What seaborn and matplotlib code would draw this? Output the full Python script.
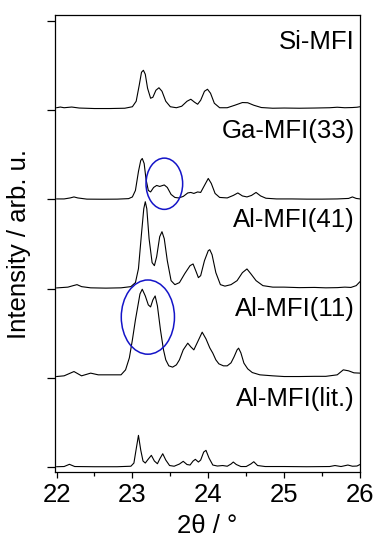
import matplotlib
matplotlib.use("Agg")
import matplotlib.pyplot as plt
from matplotlib.patches import Ellipse
import seaborn as sns
import pandas as pd

# ---------------- data ----------------
sample_names = ["Si-MFI", "Ga-MFI(33)", "Al-MFI(41)", "Al-MFI(11)", "Al-MFI(lit.)"]
stack_index = [4, 3, 2, 1, 0]   # vertical position (in tick units) of each trace
tick_step = 89.3                # intensity units between stacked traces

tt_si = [22.00, 22.05, 22.10, 22.20, 22.30, 22.50, 22.70, 22.90, 23.00, 23.05, 23.09, 23.12,
         23.145, 23.17, 23.20, 23.24, 23.27, 23.31, 23.35, 23.39, 23.44, 23.50, 23.58, 23.65,
         23.72, 23.77, 23.82, 23.86, 23.90, 23.95, 23.99, 24.03, 24.08, 24.15, 24.25, 24.35,
         24.45, 24.52, 24.60, 24.70, 24.85, 25.00, 25.20, 25.40, 25.60, 25.70, 25.80, 25.90,
         25.96, 26.00]
int_si = [2.5, 3.2, 2.5, 3.2, 2.2, 1.7, 1.7, 2.0, 3.5, 9, 25, 38,
          40, 36, 22, 12, 13, 20, 22.5, 19, 9, 3.5, 2.5, 4,
          9, 11, 8, 6, 10, 19, 21, 17, 7, 2.5, 2.5, 5,
          7.7, 7.5, 5, 2.7, 2.0, 2.2, 2.0, 2.2, 2.5, 3.0, 2.5, 2.7,
          3.0, 3.5]

tt_ga = [22.00, 22.10, 22.18, 22.23, 22.28, 22.40, 22.60, 22.80, 22.95, 23.00, 23.04, 23.08,
         23.11, 23.13, 23.155, 23.18, 23.21, 23.24, 23.28, 23.32, 23.36, 23.42, 23.46, 23.51,
         23.56, 23.61, 23.67, 23.73, 23.77, 23.81, 23.86, 23.90, 23.95, 24.00, 24.04, 24.09,
         24.15, 24.25, 24.33, 24.39, 24.45, 24.51, 24.57, 24.63, 24.69, 24.76, 24.90, 25.10,
         25.30, 25.50, 25.70, 25.85, 25.90, 25.95, 26.00]
int_ga = [0.5, 0.5, 1.5, 2.5, 1.5, 0.3, 0.2, 0.3, 0.8, 2.5, 9, 28,
          39, 41, 36, 20, 9, 7.5, 12, 14, 13, 14.5, 12, 5,
          2, 1.5, 3, 6.5, 7, 6, 7.5, 7, 14, 21, 16, 6,
          2, 1.5, 4, 6.5, 3.5, 2.5, 4, 7, 3.5, 1.2, 0.5, 0.5,
          0.3, 0.3, 0.5, 1, 2.5, 1, 0.5]

tt_al41 = [22.00, 22.15, 22.22, 22.27, 22.33, 22.45, 22.65, 22.85, 22.98, 23.04, 23.08, 23.12,
           23.15, 23.17, 23.19, 23.22, 23.26, 23.29, 23.32, 23.36, 23.39, 23.42, 23.46, 23.51,
           23.56, 23.62, 23.69, 23.76, 23.80, 23.84, 23.87, 23.90, 23.95, 24.00, 24.02, 24.05,
           24.10, 24.16, 24.22, 24.30, 24.38, 24.45, 24.51, 24.56, 24.63, 24.72, 24.85, 25.00,
           25.20, 25.40, 25.55, 25.70, 25.80, 25.88, 25.95, 26.00]
int_al41 = [0.7, 1.5, 3, 4, 2, 0.8, 0.5, 0.8, 2, 6, 20, 55,
            80, 87, 80, 50, 26, 23, 32, 52, 57, 50, 28, 8,
            4, 6, 15, 23, 24.7, 17, 11, 13, 28, 38, 39, 34,
            16, 4, 2.5, 4, 8, 16, 19.7, 15, 8, 3, 1.5, 1.5,
            1.0, 1.2, 0.8, 1.0, 1.5, 1.2, 3, 7]

tt_al11 = [22.00, 22.10, 22.23, 22.33, 22.45, 22.55, 22.70, 22.85, 22.91, 22.96, 23.00, 23.04,
           23.07, 23.10, 23.13, 23.17, 23.21, 23.24, 23.27, 23.30, 23.33, 23.37, 23.41, 23.44,
           23.48, 23.53, 23.58, 23.62, 23.67, 23.73, 23.77, 23.81, 23.86, 23.92, 23.97, 24.02,
           24.06, 24.10, 24.14, 24.20, 24.25, 24.30, 24.34, 24.38, 24.40, 24.43, 24.47, 24.52,
           24.58, 24.68, 24.85, 25.00, 25.20, 25.40, 25.55, 25.70, 25.78, 25.85, 25.92, 26.00]
int_al11 = [1.3, 2.0, 6.3, 2.0, 4.7, 3.0, 3.0, 3.0, 8, 20, 38, 58,
            71, 84, 88.7, 82, 73, 71, 78, 82, 72, 48, 28, 18,
            12, 10.7, 13, 18, 28, 34.7, 31, 28, 36, 45.7, 39, 30,
            24.7, 18, 14, 12, 12, 15, 21, 28, 29.7, 25, 14.7, 9,
            5.3, 3, 2, 1.3, 1.3, 1.5, 1.5, 3, 8, 7, 5, 4.7]

tt_lit = [22.00, 22.10, 22.17, 22.24, 22.50, 22.80, 22.98, 23.02, 23.05, 23.08, 23.11, 23.14,
          23.17, 23.21, 23.25, 23.29, 23.33, 23.36, 23.40, 23.44, 23.49, 23.55, 23.62, 23.67,
          23.72, 23.76, 23.80, 23.83, 23.87, 23.90, 23.94, 23.97, 24.01, 24.06, 24.12, 24.19,
          24.25, 24.30, 24.33, 24.37, 24.43, 24.50, 24.56, 24.60, 24.65, 24.75, 25.00, 25.30,
          25.60, 25.67, 25.75, 25.84, 25.90, 25.96, 26.00]
int_lit = [0.3, 0.5, 2.7, 0.5, 0.3, 0.3, 0.8, 4, 18, 31.7, 17, 6,
           4, 8, 11.7, 6, 3.3, 8, 13.3, 7, 1.5, 0.8, 3, 5.7,
           2.5, 2, 6, 7.7, 5, 7, 15, 16.7, 9, 2, 1, 1.5,
           0.8, 3, 5, 2.5, 0.5, 0.5, 3, 5.3, 1.5, 0.5, 0.5, 0.3,
           0.5, 1.5, 0.5, 2, 0.8, 1, 2.5]

two_theta = [tt_si, tt_ga, tt_al41, tt_al11, tt_lit]
intensity = [int_si, int_ga, int_al41, int_al11, int_lit]

# highlighted regions (blue ellipses): centre 2theta, centre intensity, width, height
ellipse_x = [23.421, 23.204]
ellipse_y = [283.6, 150.1]
ellipse_w = [0.483, 0.701]
ellipse_h = [51.3, 74.3]

x_ticks = [22, 23, 24, 25, 26]
x_tick_labels = ["22", "23", "24", "25", "26"]

# ---------------- build long table ----------------
rows = []
for name, k, xs, ys in zip(sample_names, stack_index, two_theta, intensity):
    for x, y in zip(xs, ys):
        rows.append({"sample": name, "two_theta": x, "intensity": y + k * tick_step})
df = pd.DataFrame(rows)

# ---------------- plot ----------------
sns.set_style("ticks")
plt.rcParams["font.family"] = ["Liberation Sans", "DejaVu Sans"]
plt.rcParams["axes.linewidth"] = 0.9
plt.rcParams["text.color"] = "black"
plt.rcParams["axes.labelcolor"] = "black"
plt.rcParams["xtick.color"] = "black"
plt.rcParams["ytick.color"] = "black"
plt.rcParams["axes.edgecolor"] = "black"

fig = plt.figure(figsize=(3.77, 5.41), dpi=100)
ax = fig.add_axes([0.1459, 0.1275, 0.809, 0.8447])

for name in sample_names:
    sub = df[df["sample"] == name]
    sns.lineplot(data=sub, x="two_theta", y="intensity", ax=ax, color="black",
                 linewidth=0.8, estimator=None, sort=False, legend=False)

for name, k in zip(sample_names, stack_index):
    ax.text(0.982, k * tick_step + 61.5, name, transform=ax.get_yaxis_transform(),
            ha="right", va="baseline", fontsize=18.5, color="black")

for cx, cy, w, h in zip(ellipse_x, ellipse_y, ellipse_w, ellipse_h):
    ax.add_patch(Ellipse((cx, cy), w, h, fill=False, edgecolor="#1414c8", linewidth=1.1, zorder=5))

ax.set_xlim(21.98, 26.0)
ax.set_ylim(-5, 5 * tick_step + 6)
ax.set_xticks(x_ticks)
ax.set_xticklabels(x_tick_labels)
ax.set_xticks([22.5, 23.5, 24.5, 25.5], minor=True)
ax.set_yticks([i * tick_step for i in range(6)])
ax.set_yticklabels([])
ax.tick_params(axis="x", which="major", direction="out", length=4, width=0.9,
               labelsize=18.5, pad=4, colors="black")
ax.tick_params(axis="x", which="minor", direction="out", length=3, width=0.9, colors="black")
ax.tick_params(axis="y", which="major", direction="out", length=6, width=0.9, colors="black")
for s in ax.spines.values():
    s.set_visible(True)
    s.set_color("black")

ax.set_xlabel("2θ / °", fontsize=18.5, labelpad=5)
ax.set_ylabel("Intensity / arb. u.", fontsize=18.5, labelpad=8)

fig.savefig("out.png", dpi=100)
